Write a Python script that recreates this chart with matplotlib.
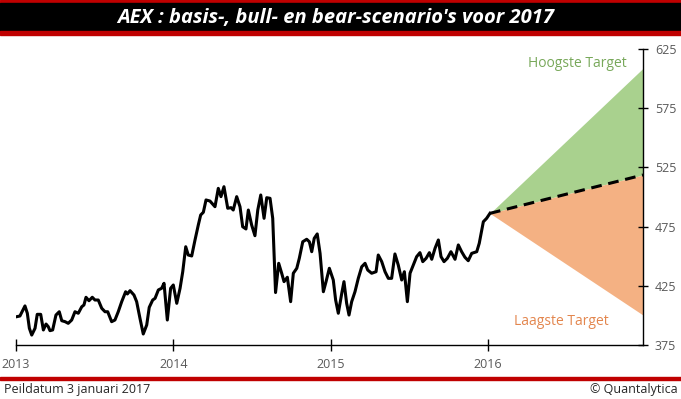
import matplotlib
matplotlib.use("Agg")
import matplotlib.pyplot as plt
from matplotlib.patches import Rectangle

# AEX closing levels (x as decimal year)
t = [2013.004, 2013.025, 2013.057, 2013.072, 2013.085, 2013.100, 2013.121, 2013.135,
     2013.157, 2013.174, 2013.191, 2013.205, 2013.216, 2013.233, 2013.254, 2013.275,
     2013.291, 2013.312, 2013.332, 2013.354, 2013.375, 2013.396, 2013.418, 2013.432,
     2013.445, 2013.464, 2013.485, 2013.502, 2013.523, 2013.545, 2013.566, 2013.583,
     2013.608, 2013.629, 2013.650, 2013.672, 2013.697, 2013.708, 2013.725, 2013.750,
     2013.767, 2013.788, 2013.809, 2013.831, 2013.847, 2013.869, 2013.884, 2013.905,
     2013.926, 2013.941, 2013.962, 2013.983, 2014.000, 2014.022, 2014.043, 2014.060,
     2014.079, 2014.095, 2014.117, 2014.138, 2014.159, 2014.174, 2014.191, 2014.208,
     2014.233, 2014.265, 2014.286, 2014.303, 2014.322, 2014.346, 2014.367, 2014.381,
     2014.403, 2014.424, 2014.441, 2014.462, 2014.477, 2014.498, 2014.519, 2014.537,
     2014.556, 2014.577, 2014.594, 2014.615, 2014.632, 2014.650, 2014.670, 2014.689,
     2014.704, 2014.725, 2014.746, 2014.763, 2014.785, 2014.801, 2014.823, 2014.848,
     2014.865, 2014.880, 2014.896, 2014.915, 2014.933, 2014.954, 2014.971, 2014.992,
     2015.017, 2015.032, 2015.049, 2015.071, 2015.085, 2015.102, 2015.117, 2015.134,
     2015.155, 2015.176, 2015.198, 2015.219, 2015.236, 2015.261, 2015.289, 2015.303,
     2015.325, 2015.346, 2015.367, 2015.388, 2015.409, 2015.430, 2015.452, 2015.469,
     2015.488, 2015.505, 2015.526, 2015.547, 2015.568, 2015.586, 2015.607, 2015.628,
     2015.643, 2015.664, 2015.685, 2015.702, 2015.721, 2015.742, 2015.765, 2015.791,
     2015.812, 2015.833, 2015.854, 2015.875, 2015.897, 2015.929, 2015.945, 2015.971,
     2015.992, 2016.013]
aex = [398.9, 399.5, 408.0, 401.8, 389.1, 383.4, 389.1, 400.9,
       400.9, 387.7, 392.7, 390.5, 387.1, 387.7, 400.3, 403.1,
       395.5, 394.7, 393.3, 396.1, 403.1, 401.8, 407.3, 408.8,
       415.3, 412.4, 415.3, 413.0, 413.0, 406.0, 403.1, 403.1,
       394.7, 396.1, 403.1, 411.6, 420.0, 418.1, 420.9, 417.2,
       411.6, 397.6, 384.3, 391.9, 406.8, 413.0, 414.4, 421.5,
       422.9, 427.1, 396.1, 422.9, 425.7, 410.2, 422.9, 436.9,
       458.0, 451.0, 450.2, 463.7, 476.4, 484.8, 487.1, 497.5,
       496.6, 491.8, 507.3, 500.3, 508.7, 490.5, 491.0, 489.0,
       500.3, 491.8, 474.9, 473.0, 489.0, 476.4, 467.3, 489.0,
       501.7, 482.0, 499.4, 498.9, 482.0, 419.3, 444.0, 435.6,
       428.5, 432.2, 411.6, 435.6, 439.8, 448.2, 462.2, 464.3,
       462.2, 453.8, 465.1, 468.8, 452.4, 420.0, 428.5, 439.8,
       429.9, 413.0, 401.8, 418.7, 428.5, 410.2, 400.3, 411.6,
       420.0, 431.3, 441.1, 444.0, 438.3, 435.6, 436.9, 451.0,
       445.4, 436.9, 431.3, 431.3, 451.9, 442.6, 429.9, 436.9,
       411.6, 435.6, 442.6, 449.6, 453.0, 445.4, 448.2, 453.0,
       447.4, 456.7, 463.7, 449.6, 445.4, 448.2, 453.8, 447.4,
       459.5, 453.8, 449.1, 446.2, 452.4, 453.8, 460.9, 479.1,
       482.0, 486.2]

# scenario fan for 2017
fan_t = [2016.013, 2016.986]
fan_base = [486.2, 518.6]
fan_high = [486.2, 608.7]
fan_low = [486.2, 400.3]

year_ticks = [2013, 2014, 2015, 2016]
year_labels = ["2013", "2014", "2015", "2016"]
y_ticks = [375, 425, 475, 525, 575, 625]

title = "AEX : basis-, bull- en bear-scenario's voor 2017"
footer_left = "Peildatum 3 januari 2017"
footer_right = "\u00a9 Quantalytica"

plt.rcParams["font.family"] = "Open Sans"

W, H = 681, 399
fig = plt.figure(figsize=(W / 100, H / 100), dpi=100)

# title bar: red / black / red
red = "#c00000"
fig.patches.append(Rectangle((0, 1 - 3 / H), 1, 3 / H, transform=fig.transFigure, color=red))
fig.patches.append(Rectangle((0, 1 - 31 / H), 1, 28 / H, transform=fig.transFigure, color="black"))
fig.patches.append(Rectangle((0, 1 - 34.5 / H), 1, 3.5 / H, transform=fig.transFigure, color=red))
fig.text(336 / W, 1 - 17.5 / H, title, color="white", fontsize=14.5, fontweight="bold",
         fontstyle="italic", ha="center", va="center")

# footer
fig.patches.append(Rectangle((0, 1 - 379.5 / H), 1, 2.5 / H, transform=fig.transFigure, color=red))
fig.text(4 / W, 1 - 389 / H, footer_left, fontsize=9, color="#262626", ha="left", va="center")
fig.text(678 / W, 1 - 389 / H, footer_right, fontsize=9, color="#262626", ha="right", va="center")

ax = fig.add_axes([16 / W, 1 - 345 / H, (643 - 16) / W, (345 - 49) / H])

ax.fill_between(fan_t, fan_base, fan_high, color="#a9d18e", linewidth=0)
ax.fill_between(fan_t, fan_low, fan_base, color="#f4b183", linewidth=0)
ax.plot(fan_t, fan_base, color="black", linewidth=2.2, linestyle=(0, (3.5, 2.2)))
ax.plot(t, aex, color="black", linewidth=2.2, solid_joinstyle="round")

ax.text(2016.566, 613, "Hoogste Target", color="#78a85a", fontsize=10, ha="center", va="center")
ax.text(2016.465, 394.5, "Laagste Target", color="#e3864e", fontsize=10, ha="center", va="center")

ax.set_xlim(2013.0, 2016.986)
ax.set_ylim(375, 625)
ax.set_xticks(year_ticks)
ax.set_xticklabels(year_labels)
ax.set_yticks(y_ticks)

ax.yaxis.tick_right()
for side in ["top", "left"]:
    ax.spines[side].set_visible(False)
for side in ["bottom", "right"]:
    ax.spines[side].set_linewidth(1.0)
    ax.spines[side].set_color("black")

ax.tick_params(axis="x", direction="inout", length=9, width=1.0, pad=5,
               labelsize=9, labelcolor="#595959")
ax.tick_params(axis="y", direction="inout", length=7, width=1.0, pad=5,
               labelsize=9, labelcolor="#595959")

fig.savefig("out.png", dpi=100)
